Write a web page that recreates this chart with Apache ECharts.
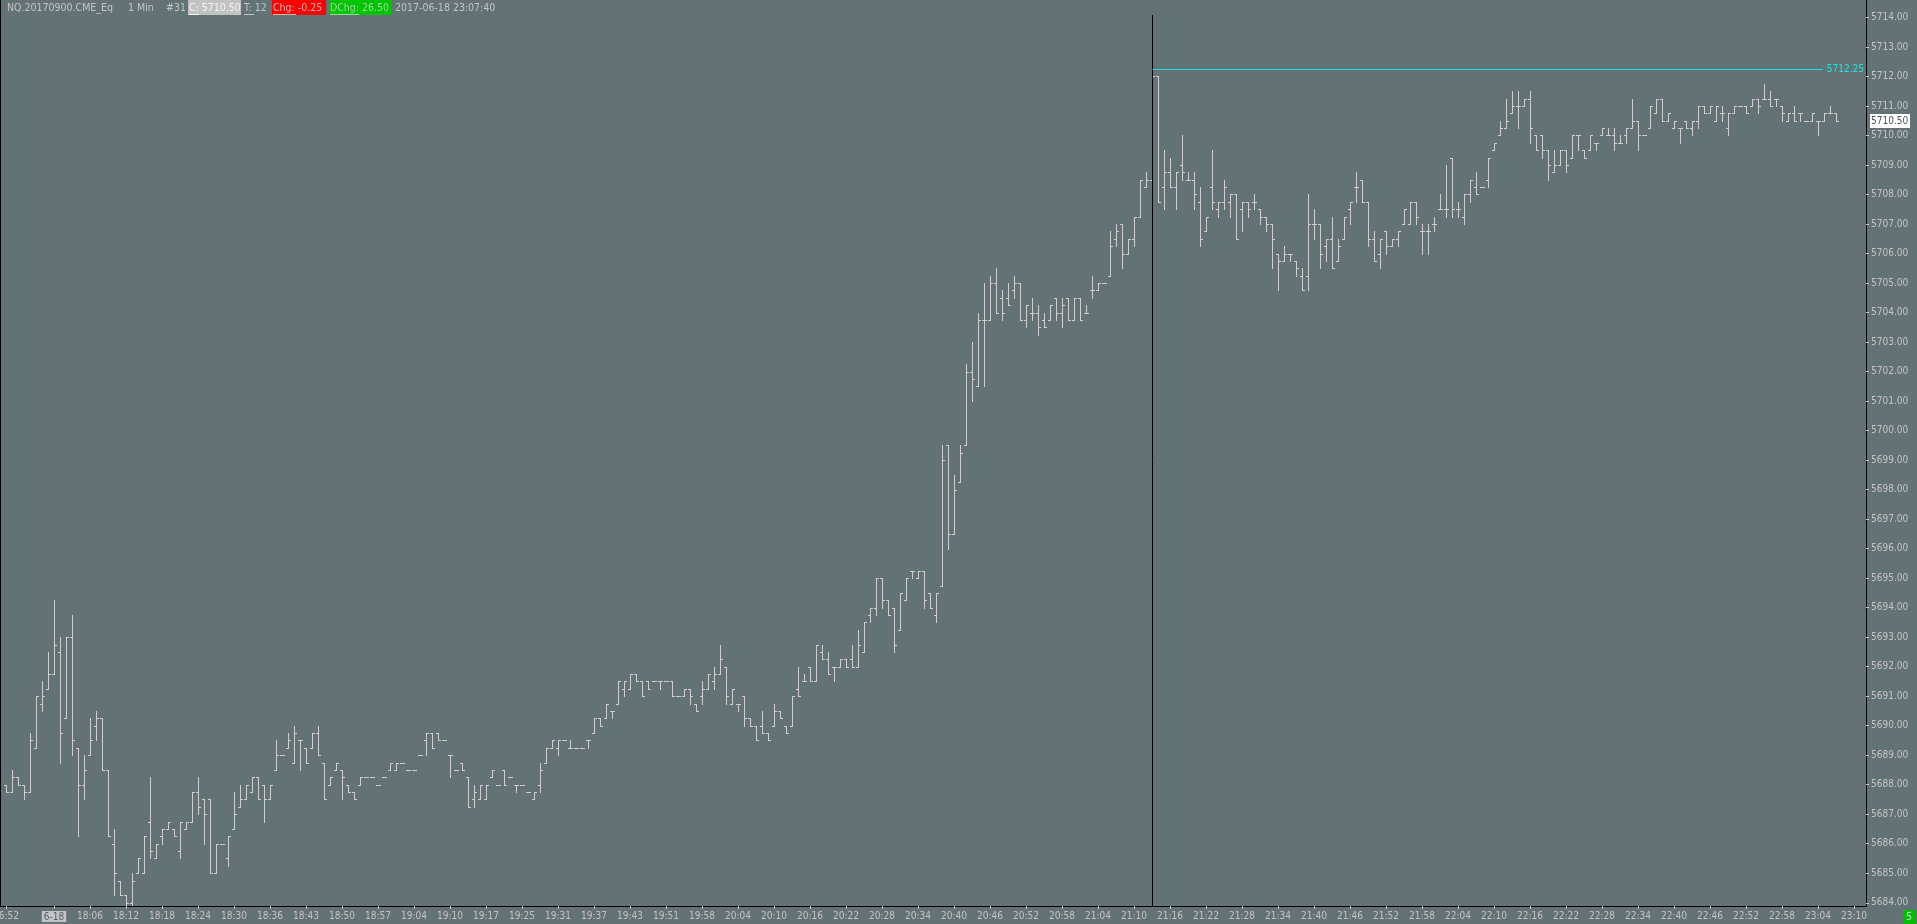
<!DOCTYPE html>
<html><head><meta charset="utf-8">
<script src="https://cdn.jsdelivr.net/npm/echarts@6/dist/echarts.min.js"></script>
<style>html,body{margin:0;padding:0;background:#637274;overflow:hidden}#c{width:1917px;height:924px}</style>
</head><body><div id="c"></div>
<script>
// ---- data: NQ 1-minute OHLC bars (bar index 0 = 16:52 of 6-16, index 8 = 18:00 of 6-18) ----
const opens=[
5688,5687.75,5688.25,5688,5687.75,5689.25,5690.75,5691.25,5691.75,5692.5,
5690.25,5693,5689.25,5688,5689,5690,5690.25,5688.5,5686,5684.75,
5684.25,5684,5685,5685,5686.75,5685.5,5686.25,5686.5,5686.5,5685.75,
5686.5,5686.75,5687.75,5687.5,5687.5,5685,5686,5685.5,5686.5,5687.25,
5687.5,5687.75,5688.25,5688,5687.5,5688.5,5689,5689.25,5688.75,5689.5,
5689.25,5689.25,5689.75,5688.75,5688,5688.5,5688.5,5688,5687.75,5688,
5688.25,5688.25,5688,5688.25,5688.5,5688.5,5688.75,5688.5,5688.5,5689,
5689.5,5689.75,5689.75,5689.5,5689,5688.5,5688.75,5688.25,5687.5,5687.5,
5687.5,5688.25,5688,5688.5,5688.25,5688,5688,5687.75,5687.5,5688,
5688.75,5689.25,5689.25,5689.5,5689.25,5689.25,5689.25,5689.5,5689.75,5690.25,
5690.25,5690.5,5690.75,5691.25,5691.25,5691.75,5691.5,5691.5,5691.5,5691.5,
5691.5,5691.5,5691,5691,5691.25,5690.75,5691,5691.25,5691.5,5691.75,
5692,5690.75,5690.75,5691,5690.25,5690,5690,5689.75,5690,5690.5,
5690,5690,5691.25,5691.5,5692,5691.5,5692.5,5692.25,5692,5692,
5692.25,5692.25,5692,5692.5,5693.75,5694,5695,5694.25,5694,5693.25,
5694.25,5695.25,5695,5695.25,5694.5,5693.75,5694.75,5699.5,5696.5,5698.25,
5699.5,5702,5701.5,5703.75,5703.75,5705,5704.5,5704.5,5704.75,5705,
5703.75,5704,5704,5703.75,5703.75,5704.5,5704,5704.5,5703.75,5704.5,
5704,5704.75,5704.75,5705,5705.25,5706.5,5707,5706,5706.5,5707.25,
5708.25,5708.5,5712,5708.25,5708.75,5708.25,5709,5708.5,5708.5,5707.75,
5706.75,5708.25,5707.5,5707.75,5707.75,5708,5707.5,5707.75,5707.75,5707.5,
5707.25,5707,5706,5705.75,5706,5705.75,5705.25,5705.25,5707,5707,
5706.25,5706.5,5705.75,5706.5,5707.5,5708.25,5708.5,5707.75,5706.5,5706,
5706.75,5706.25,5706.5,5707,5707,5707.75,5706.75,5706.75,5707,5707.5,
5707.5,5709.25,5707.5,5707.25,5708,5708.25,5708.25,5708.5,5709.5,5710,
5710.25,5710.75,5711,5711,5711.25,5710,5710,5709.5,5708.75,5709,
5709.5,5709.25,5710,5709.5,5709.5,5709.75,5710,5710,5710,5709.75,
5710,5710.25,5710.5,5710,5710.25,5710.75,5711.25,5710.5,5710.25,5710.25,
5710.5,5710.25,5710.5,5711,5710.75,5710.5,5710.75,5710.25,5710.75,5711,
5711,5711,5711.25,5711.25,5711.25,5711.25,5711,5710.5,5710.75,5710.75,
5710.5,5710.5,5710.5,5710.5,5710.75,5710.75];
const highs=[
5688,5688.5,5688.25,5688,5689.75,5691,5691.5,5692.5,5694.25,5693,
5693,5693.75,5689.25,5689,5690.25,5690.5,5690.25,5688.5,5686.5,5684.75,
5684.25,5685,5685.5,5686.25,5688.25,5686,5686.5,5686.75,5686.5,5686.75,
5686.75,5687.75,5688.25,5687.5,5687.5,5686,5686,5686.25,5687.75,5688,
5688,5688.25,5688.25,5688,5688,5689.5,5689,5689.75,5690,5689.5,
5689.25,5689.75,5690,5688.75,5688.25,5688.75,5688.5,5688,5687.75,5688.25,
5688.25,5688.25,5688,5688.25,5688.75,5688.75,5688.75,5688.5,5688.5,5689,
5689.75,5689.75,5689.75,5689.5,5689,5688.5,5688.75,5688.25,5688,5688,
5688,5688.5,5688,5688.5,5688.25,5688,5688,5687.75,5687.75,5688.75,
5689.25,5689.5,5689.5,5689.5,5689.5,5689.25,5689.25,5689.5,5690.25,5690.25,
5690.75,5690.5,5691.5,5691.5,5691.75,5691.75,5691.5,5691.5,5691.5,5691.5,
5691.5,5691.5,5691,5691.25,5691.25,5690.75,5691.5,5691.75,5692,5692.75,
5692,5691.25,5690.75,5691,5690.25,5690,5690.5,5689.75,5690.75,5690.5,
5690,5691,5692,5691.75,5692,5692.75,5692.75,5692.5,5692,5692.25,
5692.25,5692.75,5693.25,5693.5,5694,5695,5695,5694.25,5694,5694.5,
5695,5695.25,5695.25,5695.25,5694.5,5694.5,5699.5,5699.5,5698.5,5699.5,
5702.25,5703,5704,5705,5705.25,5705.5,5704.75,5705,5705.25,5705,
5704.25,5704.5,5704.25,5704,5704.25,5704.5,5704.5,5704.5,5704.5,5704.5,
5704.25,5705.25,5705,5705,5706.75,5707,5707,5706.5,5707.25,5708.5,
5708.75,5712.25,5712,5709.5,5709.25,5708.75,5710,5708.75,5708.75,5708.25,
5707.25,5709.5,5707.75,5708.5,5708,5708,5707.75,5707.75,5708,5707.5,
5707.25,5707,5706,5706.25,5706,5705.75,5705.5,5708,5707.5,5707,
5706.5,5707.25,5706.5,5707.25,5707.75,5708.75,5708.5,5707.75,5706.75,5706.5,
5706.75,5706.5,5706.75,5707.5,5707.75,5707.75,5707,5707,5707.25,5708,
5709,5709.25,5707.75,5708,5708.5,5708.75,5708.25,5709.25,5709.75,5710.5,
5711.25,5711.5,5711.5,5711.25,5711.5,5710,5710,5709.5,5709.5,5709.5,
5709.5,5710,5710,5709.5,5710,5709.75,5710.25,5710.25,5710.25,5710,
5710.25,5711.25,5710.5,5710,5711,5711.25,5711.25,5710.75,5710.5,5710.25,
5710.5,5710.5,5711,5711,5711,5711,5711,5710.75,5711,5711,
5711,5711.25,5711.25,5711.75,5711.5,5711.25,5711,5710.75,5711,5710.75,
5710.5,5710.75,5710.5,5710.75,5711,5710.75];
const lows=[
5687.75,5687.75,5688,5687.5,5687.75,5689.25,5690.5,5691.25,5691.75,5688.75,
5690.25,5689,5686.25,5687.5,5689,5689.5,5688.5,5686.25,5684.25,5684.25,
5683.75,5683.75,5685,5685,5685.5,5685.5,5686,5686.5,5686.25,5685.5,
5686.5,5686.75,5687,5686,5685,5685,5686,5685.25,5686.5,5687.25,
5687.5,5687.75,5687.5,5686.75,5687.5,5688.5,5689,5689.25,5688.75,5688.5,
5688.75,5689.25,5689,5687.5,5688,5688.5,5687.5,5687.75,5687.5,5688,
5688.25,5688.25,5688,5688.25,5688.5,5688.5,5688.75,5688.5,5688.5,5689,
5689,5689.25,5689.5,5689.5,5688.25,5688.5,5688.5,5687.25,5687.25,5687.5,
5687.5,5688.25,5688,5688,5688.25,5687.75,5688,5687.75,5687.5,5687.75,
5688.75,5689.25,5689,5689.5,5689.25,5689.25,5689.25,5689.25,5689.75,5690,
5690.25,5690.25,5690.75,5691,5691.25,5691.5,5691,5691.25,5691.5,5691.25,
5691.5,5691,5691,5691,5690.75,5690.5,5690.75,5691.25,5691.25,5691.75,
5690.75,5690.75,5690.5,5690,5690,5689.5,5689.75,5689.5,5690,5690.25,
5689.75,5690,5691,5691.5,5691.5,5691.5,5692.25,5691.75,5691.5,5692,
5692,5692,5692,5692.5,5693.5,5693.75,5694,5693.75,5692.5,5693.25,
5694.25,5695,5695,5694,5694,5693.5,5694.75,5696,5696.5,5698.25,
5699.5,5701,5701.5,5701.5,5703.75,5704,5703.75,5704.25,5704.5,5703.75,
5703.5,5703.75,5703.25,5703.5,5703.75,5703.75,5703.5,5703.75,5703.75,5703.75,
5704,5704.5,5704.75,5705,5705.25,5706.25,5705.5,5706,5706.25,5707.25,
5708.25,5708.5,5707.75,5707.5,5708.25,5707.5,5708.5,5708.5,5707.5,5706.25,
5706.75,5707.5,5707.25,5707.5,5707.25,5706.5,5706.75,5707.25,5707.5,5707,
5706.75,5705.5,5704.75,5705.75,5705.75,5705.25,5704.75,5704.75,5706.5,5705.5,
5705.75,5705.5,5705.75,5706.5,5707,5707.75,5707.75,5706.25,5705.75,5705.5,
5706,5706.25,5706.25,5707,5707,5707,5706,5706,5706.75,5707.5,
5707.25,5707.25,5707.25,5707,5707.75,5708,5708.25,5708.25,5709.5,5710,
5710.25,5710.75,5710.25,5711,5709.75,5709.5,5709.25,5708.5,5708.75,5709,
5708.75,5709.25,5709.5,5709.25,5709.5,5709.5,5710,5710,5709.5,5709.75,
5709.75,5710.25,5709.5,5710,5710.25,5710.75,5710.5,5710.5,5710.25,5709.75,
5710.25,5710,5710.25,5710.75,5710.75,5710.5,5710.5,5710,5710.75,5711,
5710.75,5711,5710.75,5711.25,5711,5711,5710.5,5710.5,5710.5,5710.5,
5710.5,5710.5,5710,5710.5,5710.75,5710.5];
const closes=[
5687.75,5688.25,5688,5687.75,5689.5,5691,5691,5691.75,5692.75,5689.75,
5693,5689.5,5688,5688.5,5689.5,5690.25,5688.5,5686.25,5685,5684.25,
5684,5684.75,5685.5,5686.25,5685.75,5686,5686.5,5686.75,5686.25,5686.75,
5686.75,5687.75,5687.25,5687,5685,5686,5686,5686.25,5687,5687.5,
5688,5688.25,5687.5,5687.5,5688,5689,5689,5689.5,5689.75,5689.5,
5688.75,5689.75,5689,5687.5,5688.25,5688.75,5688.25,5687.75,5687.5,5688.25,
5688.25,5688.25,5688,5688.25,5688.75,5688.75,5688.75,5688.5,5688.5,5689,
5689.75,5689.25,5689.5,5689.5,5689,5688.5,5688.5,5687.25,5687.75,5688,
5688,5688.5,5688,5688,5688.25,5688,5688,5687.75,5687.75,5688.5,
5689.25,5689.5,5689.5,5689.5,5689.25,5689.25,5689.25,5689.5,5690.25,5690,
5690.75,5690.5,5691.5,5691.5,5691.75,5691.5,5691,5691.25,5691.5,5691.5,
5691.5,5691,5691,5691.25,5691,5690.5,5691.25,5691.75,5691.75,5692.25,
5691,5691.25,5690.75,5690.25,5690,5689.5,5689.75,5689.5,5690.5,5690.25,
5689.75,5691,5691,5691.5,5691.5,5692.75,5692.25,5691.75,5692,5692.25,
5692,5692,5692.75,5693.5,5694,5695,5694.25,5693.75,5692.75,5694.5,
5695,5695.25,5695.25,5694.25,5694,5694.5,5699,5696.5,5698,5699.25,
5702,5701.75,5703.75,5703.75,5705,5704,5704,5704.25,5705,5703.75,
5704.25,5704,5703.5,5703.5,5704.25,5704,5704.25,5703.75,5704.5,5703.75,
5704,5704.75,5705,5705,5706.25,5706.75,5706,5706.5,5707.25,5708.5,
5708.5,5712,5707.75,5708.75,5708.25,5708.75,5708.75,5708.5,5708,5706.5,
5707.25,5707.75,5707.75,5708.25,5708,5706.5,5707.75,5707.5,5707.75,5707.25,
5707,5706.5,5705.75,5706,5706,5705.5,5704.75,5707,5707,5706,
5706.5,5705.5,5706.25,5707.25,5707.75,5708.25,5707.75,5706.5,5705.75,5706.5,
5706.25,5706.5,5706.75,5707.5,5707.75,5707.25,5706.75,5706.75,5707,5707.5,
5707.5,5707.5,5707.5,5708,5708.5,5708,5708.25,5709.25,5709.75,5710.25,
5710.5,5711,5711,5711.25,5710.25,5709.5,5709.5,5709,5709,5709.5,
5709,5710,5710,5709.25,5710,5709.75,5710.25,5710,5709.75,5709.75,
5710.25,5710.5,5710,5710,5711,5711.25,5710.5,5710.75,5710.5,5710.25,
5710.25,5710.5,5711,5710.75,5711,5711,5710.75,5710.75,5711,5711,
5710.75,5711.25,5711,5711.25,5711,5711.25,5710.75,5710.75,5710.5,5710.75,
5710.5,5710.75,5710.5,5710.75,5710.75,5710.5];

// time-axis tick labels and the bar index each one sits on
const tickLabels=['16:52','6-18','18:06','18:12','18:18','18:24','18:30','18:36','18:43','18:50','18:57',
'19:04','19:10','19:17','19:25','19:31','19:37','19:43','19:51','19:58','20:04','20:10','20:16','20:22',
'20:28','20:34','20:40','20:46','20:52','20:58','21:04','21:10','21:16','21:22','21:28','21:34','21:40',
'21:46','21:52','21:58','22:04','22:10','22:16','22:22','22:28','22:34','22:40','22:46','22:52','22:58',
'23:04','23:10'];
const tickBars=[0,8,14,20,26,32,38,44,50,56,62,68,74,80,86,92,98,104,110,116,122,128,134,140,146,152,
158,164,170,176,182,188,194,200,206,212,218,224,230,236,242,248,254,260,266,272,278,284,290,296,302,308];
// price-axis tick values
const priceTicks=[5684,5685,5686,5687,5688,5689,5690,5691,5692,5693,5694,5695,5696,5697,5698,5699,5700,
5701,5702,5703,5704,5705,5706,5707,5708,5709,5710,5711,5712,5713,5714];
// annotations
const markerBar=191;
const highLine=5712.25;
const lastPrice=5710.50;
const header={sym:'NQ.20170900.CME_Eq',tf:'1 Min',num:'#31',c:'C: 5710.50',t:'T: 12',chg:'Chg: -0.25',dchg:'DChg: 26.50',time:'2017-06-18 23:07:40'};

const labelMap={};
tickBars.forEach((b,k)=>{labelMap[b]=tickLabels[k];});
const barData=opens.map((o,i)=>[i,o,highs[i],lows[i],closes[i]]);

const BG='#637274', BAR='#cfcfcf', TXT='#c4c4c4', FONT="'DejaVu Sans Condensed','Liberation Sans Narrow','DejaVu Sans',sans-serif";

function renderItem(params, api){
  const i=api.value(0);
  const po=api.coord([i,api.value(1)]), ph=api.coord([i,api.value(2)]);
  const pl=api.coord([i,api.value(3)]), pc=api.coord([i,api.value(4)]);
  const x=Math.round(po[0]);
  const yh=Math.round(ph[1]), yl=Math.round(pl[1]), yo=Math.round(po[1]), yc=Math.round(pc[1]);
  const st={fill:BAR};
  return {type:'group',children:[
    {type:'rect',shape:{x:x,y:yh,width:1,height:Math.max(1,yl-yh+1)},style:st},
    {type:'rect',shape:{x:x-2,y:yo,width:2,height:1},style:st},
    {type:'rect',shape:{x:x+1,y:yc,width:2,height:1},style:st}
  ]};
}

const chart=echarts.init(document.getElementById('c'),null,{renderer:'canvas'});
const option={
  backgroundColor:BG,
  animation:false,
  grid:{left:0,right:51,top:0,bottom:18,containLabel:false,outerBoundsMode:'none'},
  xAxis:{type:'value',min:-1,max:310,
    axisLine:{show:true,onZero:false,lineStyle:{color:'#000',width:1}},
    axisTick:{show:true,length:3,customValues:tickBars,lineStyle:{color:TXT}},
    axisLabel:{show:true,customValues:tickBars,color:TXT,fontFamily:FONT,fontSize:10,margin:5,
      formatter:v=>{const s=labelMap[Math.round(v)]||'';return s==='6-18'?'{d|6-18}':s;},
      rich:{d:{backgroundColor:'#c4c4c4',color:'#56626a',fontFamily:FONT,fontSize:10,padding:[1,2,0,2]}}},
    splitLine:{show:false}},
  yAxis:{type:'value',position:'right',min:5683.89,max:5714.59,
    axisLine:{show:true,onZero:false,lineStyle:{color:'#000',width:1}},
    axisTick:{show:true,length:3,customValues:priceTicks,lineStyle:{color:TXT}},
    axisLabel:{show:true,customValues:priceTicks,color:TXT,fontFamily:FONT,fontSize:10,margin:5,
      formatter:v=>v.toFixed(2)},
    splitLine:{show:false}},
  series:[{type:'custom',renderItem:renderItem,data:barData,clip:true,encode:{x:0,y:[1,2,3,4]}}]
};
chart.setOption(option);

const px=(i,p)=>chart.convertToPixel({gridIndex:0},[i,p]);
const xm=Math.round(px(markerBar,highLine)[0])+0.5;
const yHigh=Math.round(px(markerBar,highLine)[1])+0.5;
const yLast=Math.round(px(markerBar,lastPrice)[1]);
const HF="10.5px "+FONT, BF="10.5px "+FONT;
function txt(x,y,s,fill,extra){return {type:'text',x:x,y:y,z:20,style:Object.assign({text:s,fill:fill,font:HF,verticalAlign:'middle'},extra||{})};}
function box(x,y,w,h,fill,z){return {type:'rect',z:z||19,shape:{x:x,y:y,width:w,height:h},style:{fill:fill}};}
function ul(x1,x2,y,c){return {type:'line',z:21,shape:{x1:x1,y1:y,x2:x2,y2:y},style:{stroke:c,lineWidth:1}};}
chart.setOption({graphic:[
  {type:'line',z:10,shape:{x1:0.5,y1:0,x2:0.5,y2:906},style:{stroke:'#000',lineWidth:1}},
  {type:'line',z:10,shape:{x1:xm,y1:15,x2:xm,y2:906},style:{stroke:'#000',lineWidth:1}},
  {type:'line',z:10,shape:{x1:xm,y1:yHigh,x2:1823,y2:yHigh},style:{stroke:'#19e0e0',lineWidth:1}},
  txt(1864,yHigh,highLine.toFixed(2),'#19e6e6',{align:'right',font:"10px "+FONT}),
  box(1870,yLast-7,40,14,'#ffffff'),
  txt(1871,yLast,lastPrice.toFixed(2),'#4a585c',{font:"10px "+FONT}),
  // header
  txt(7,8,header.sym,TXT),
  txt(128,8,header.tf,TXT),
  txt(166,8,header.num,TXT),
  box(188,0,53,15,'#c2c2c2'),
  txt(189,8,header.c,'#f4f4f4',{font:BF}),
  box(241,0,3,15,BG,22),
  ul(189,199,14.5,'#f4f4f4'),
  txt(244,8,header.t,TXT),
  ul(244,254,14.5,TXT),
  box(272,0,54,15,'#ff0000'),
  txt(273,8,header.chg,'#d9b0b0',{font:BF}),
  ul(273,296,14.5,'#d9b0b0'),
  box(329,0,63,15,'#00c400'),
  txt(330,8,header.dchg,'#9ad89a',{font:BF}),
  ul(330,359,14.5,'#9ad89a'),
  txt(395,8,header.time,TXT),
  // bottom-right status box
  box(1903,910,12,14,'#00c000'),
  txt(1909,917,'5','#d8d8d8',{align:'center',font:BF})
]});
</script></body></html>
